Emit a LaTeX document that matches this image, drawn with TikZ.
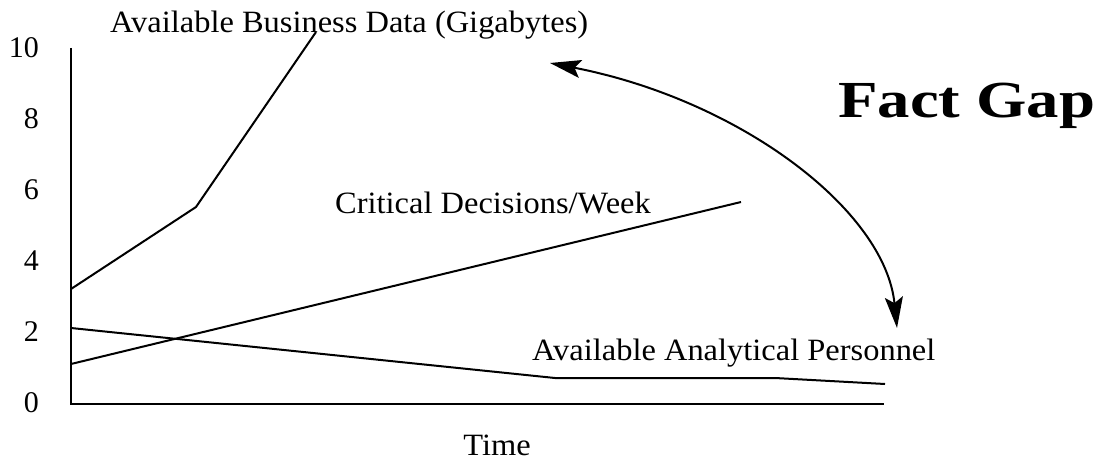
\documentclass[tikz,border=0pt]{standalone}
\usepackage{fontspec}
\setmainfont{Liberation Serif}
\usetikzlibrary{arrows.meta}

\tikzset{
  plotline/.style={line width=2pt, line join=miter},
  axisline/.style={line width=2pt},
  ticklabel/.style={anchor=east, inner sep=0pt, font=\fontsize{30}{34}\selectfont},
  serieslabel/.style={anchor=base west, inner sep=0pt, font=\fontsize{31}{36}\selectfont},
  gaptip/.style={Stealth[length=31pt,width=18pt,inset=6pt]},
  gaparrow/.style={line width=2pt, {Stealth[length=31pt,width=18pt,inset=6pt]}-{Stealth[length=31pt,width=18pt,inset=6pt]}},
}
\newcommand{\wide}[1]{\scalebox{1.047}[1]{#1}}

\begin{document}
\begin{tikzpicture}[x=1pt,y=-1pt]
  \useasboundingbox (0,0) rectangle (1102,460);

  % axes
  \coordinate (top) at (71,48);
  \coordinate (origin) at (71,404);
  \coordinate (xend) at (884,404);
  \draw[axisline] (top) -- (origin) -- (xend);

  % y tick labels
  \node[ticklabel] (t10) at (39,48)  {10};
  \node[ticklabel] (t8)  at (39,119) {8};
  \node[ticklabel] (t6)  at (39,190) {6};
  \node[ticklabel] (t4)  at (39,261) {4};
  \node[ticklabel] (t2)  at (39,332) {2};
  \node[ticklabel] (t0)  at (39,403) {0};

  % business data series
  \coordinate (b0) at (71,289);
  \coordinate (b1) at (196,207);
  \coordinate (b2) at (316,32);
  \draw[plotline] (b0) -- (b1) -- (b2);

  % decisions series
  \coordinate (d0) at (71,364);
  \coordinate (d1) at (741,202);
  \draw[plotline] (d0) -- (d1);

  % personnel series
  \coordinate (p0) at (71,328);
  \coordinate (p1) at (555,378);
  \coordinate (p2) at (775,378);
  \coordinate (p3) at (885,384);
  \draw[plotline] (p0) -- (p1) -- (p2) -- (p3);

  % series labels
  \node[serieslabel] (lb) at (110,33) {\wide{Available Business Data (Gigabytes)}};
  \node[serieslabel] (ld) at (335,213) {\wide{Critical Decisions/Week}};
  \node[serieslabel] (lp) at (532,360) {\wide{Available Analytical Personnel}};
  \node[anchor=base, inner sep=0pt, font=\fontsize{31}{36}\selectfont] (time) at (497,455) {\wide{Time}};

  % gap annotation
  \node[anchor=base west, inner sep=0pt, font=\fontsize{52}{60}\bfseries\selectfont] (gap) at (838,117) {\scalebox{1.245}[1]{Fact Gap}};
  \coordinate (ga) at (550,63);
  \coordinate (gb) at (897,328);
  \draw[gaparrow] (ga) .. controls (740,100) and (885,210) .. (gb);
\end{tikzpicture}
\end{document}
